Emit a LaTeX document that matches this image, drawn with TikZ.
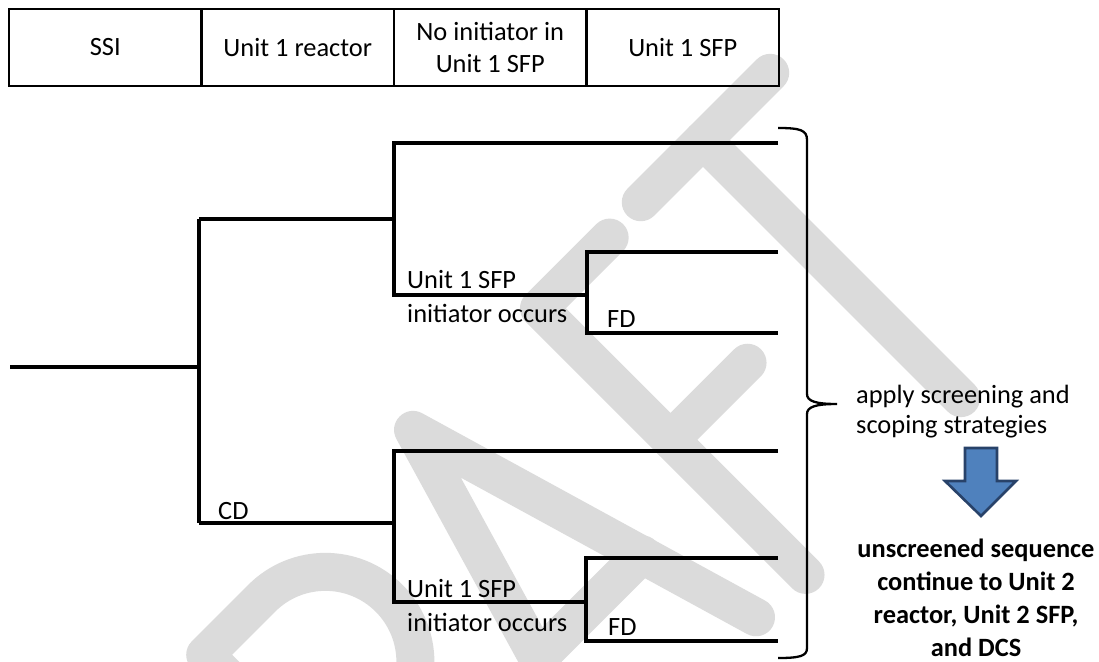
\documentclass[tikz,border=0pt]{standalone}
\usepackage{fontspec}
\setmainfont{Carlito}
\definecolor{wm}{RGB}{219,219,219}
\definecolor{arrfill}{RGB}{79,129,189}
\definecolor{arrline}{RGB}{40,66,105}
\begin{document}
\begin{tikzpicture}[x=1pt,y=-1pt,
  tree/.style={line width=3.3pt, line join=miter},
  wmline/.style={line width=38pt, draw=wm, line cap=round, line join=round},
  txt/.style={inner sep=0pt, font=\fontsize{26.4}{32}\selectfont},
  lbl/.style={txt, anchor=base west},
  boldl/.style={inner sep=0pt, anchor=base, font=\fontsize{26.4}{32}\selectfont\bfseries},
  cell/.style={draw, line width=2.7pt, minimum width=192.5pt, minimum height=77pt,
    inner sep=0pt, align=center, font=\fontsize{26.4}{32}\selectfont},
  bracel/.style={line width=2.3pt},
  arrowshape/.style={fill=arrfill, draw=arrline, line width=2.6pt, line join=miter}]
\useasboundingbox (0,0) rectangle (1099,661);

% watermark
\begin{scope}
\clip (0,0) rectangle (1099,661);
\begin{scope}[shift={(703,140)}, rotate=45]
  % T
  \draw[wmline] (-88,0) -- (95,0);
  \draw[wmline] (0,0) -- (0,365);
  % F
  \draw[wmline] (-135,3) -- (-235,3) -- (-235,380);
  \draw[wmline] (-235,189) -- (-126,189);
  % A
  \draw[wmline] (-520,375) -- (-410,0) -- (-300,375);
  \draw[wmline] (-484,250) -- (-336,250);
  % R
  \draw[wmline] (-716,384) -- (-716,12) -- (-636,12)
     .. controls (-586.3,12) and (-546,52.3) .. (-546,102)
     .. controls (-546,151.7) and (-586.3,192) .. (-636,192) -- (-716,192);
  \draw[wmline] (-660,192) -- (-546,384);
\end{scope}
\end{scope}

% header table
\node[cell] (h1) at (105.25,47.5) {SSI};
\node[cell] (h2) at (297.75,47.5) {Unit 1 reactor};
\node[cell] (h3) at (490.25,47.5) {No initiator in\\Unit 1 SFP};
\node[cell] (h4) at (682.75,47.5) {Unit 1 SFP};

% tree coordinates
\coordinate (r0) at (10,367);
\coordinate (r1) at (199,367);
\coordinate (s1u) at (199,219);
\coordinate (s1d) at (199,523);
\coordinate (j1) at (394,219);
\coordinate (t1) at (394,143);
\coordinate (b1) at (394,295);
\coordinate (e1) at (778,143);
\coordinate (m1) at (587,295);
\coordinate (t2) at (587,252);
\coordinate (b2) at (587,333);
\coordinate (e2) at (778,252);
\coordinate (e3) at (778,333);
\coordinate (j2) at (394,523);
\coordinate (t3) at (394,451);
\coordinate (b3) at (394,602);
\coordinate (e4) at (778,451);
\coordinate (m2) at (586,602);
\coordinate (t4) at (586,558);
\coordinate (b4) at (586,641);
\coordinate (e5) at (778,558);
\coordinate (e6) at (778,641);

\draw[tree] (r0) -- (r1);
\draw[tree] (s1u) -- (s1d);
\draw[tree] (s1u) -- (j1);
\draw[tree] (s1d) -- (j2);
\draw[tree] (e1) -- (t1) -- (b1) -- (m1);
\draw[tree] (e2) -- (t2) -- (b2) -- (e3);
\draw[tree] (e4) -- (t3) -- (b3) -- (m2);
\draw[tree] (e5) -- (t4) -- (b4) -- (e6);

% labels
\node[lbl] (cd) at (218,519) {CD};
\node[lbl] (ua1) at (407,288) {Unit 1 SFP};
\node[lbl] (ua2) at (407,322) {initiator occurs};
\node[lbl] (fd1) at (607,327) {FD};
\node[lbl] (ub1) at (407,597) {Unit 1 SFP};
\node[lbl] (ub2) at (407,631) {initiator occurs};
\node[lbl] (fd2) at (608,635) {FD};

% brace
\coordinate (bt) at (778,128);
\coordinate (btip) at (837,404);
\coordinate (bb) at (778,658);
\draw[bracel] (bt) .. controls (800,128) and (807,130) .. (807,140) -- (807,394)
  .. controls (807,401) and (815,404) .. (btip)
  .. controls (815,404) and (807,407) .. (807,414) -- (807,648)
  .. controls (807,656) and (800,658) .. (bb);

% right side text
\node[lbl] (ap1) at (856,403) {apply screening and};
\node[lbl] (ap2) at (856,433) {scoping strategies};

% arrow
\draw[arrowshape] (965,448) -- (997,448) -- (997,481) -- (1016,481) -- (981,516)
  -- (945,481) -- (965,481) -- cycle;

\node[boldl] (res1) at (976,557) {unscreened sequence};
\node[boldl] (res2) at (976,590) {continue to Unit 2};
\node[boldl] (res3) at (976,623) {reactor, Unit 2 SFP,};
\node[boldl] (res4) at (976,656) {and DCS};
\end{tikzpicture}
\end{document}
